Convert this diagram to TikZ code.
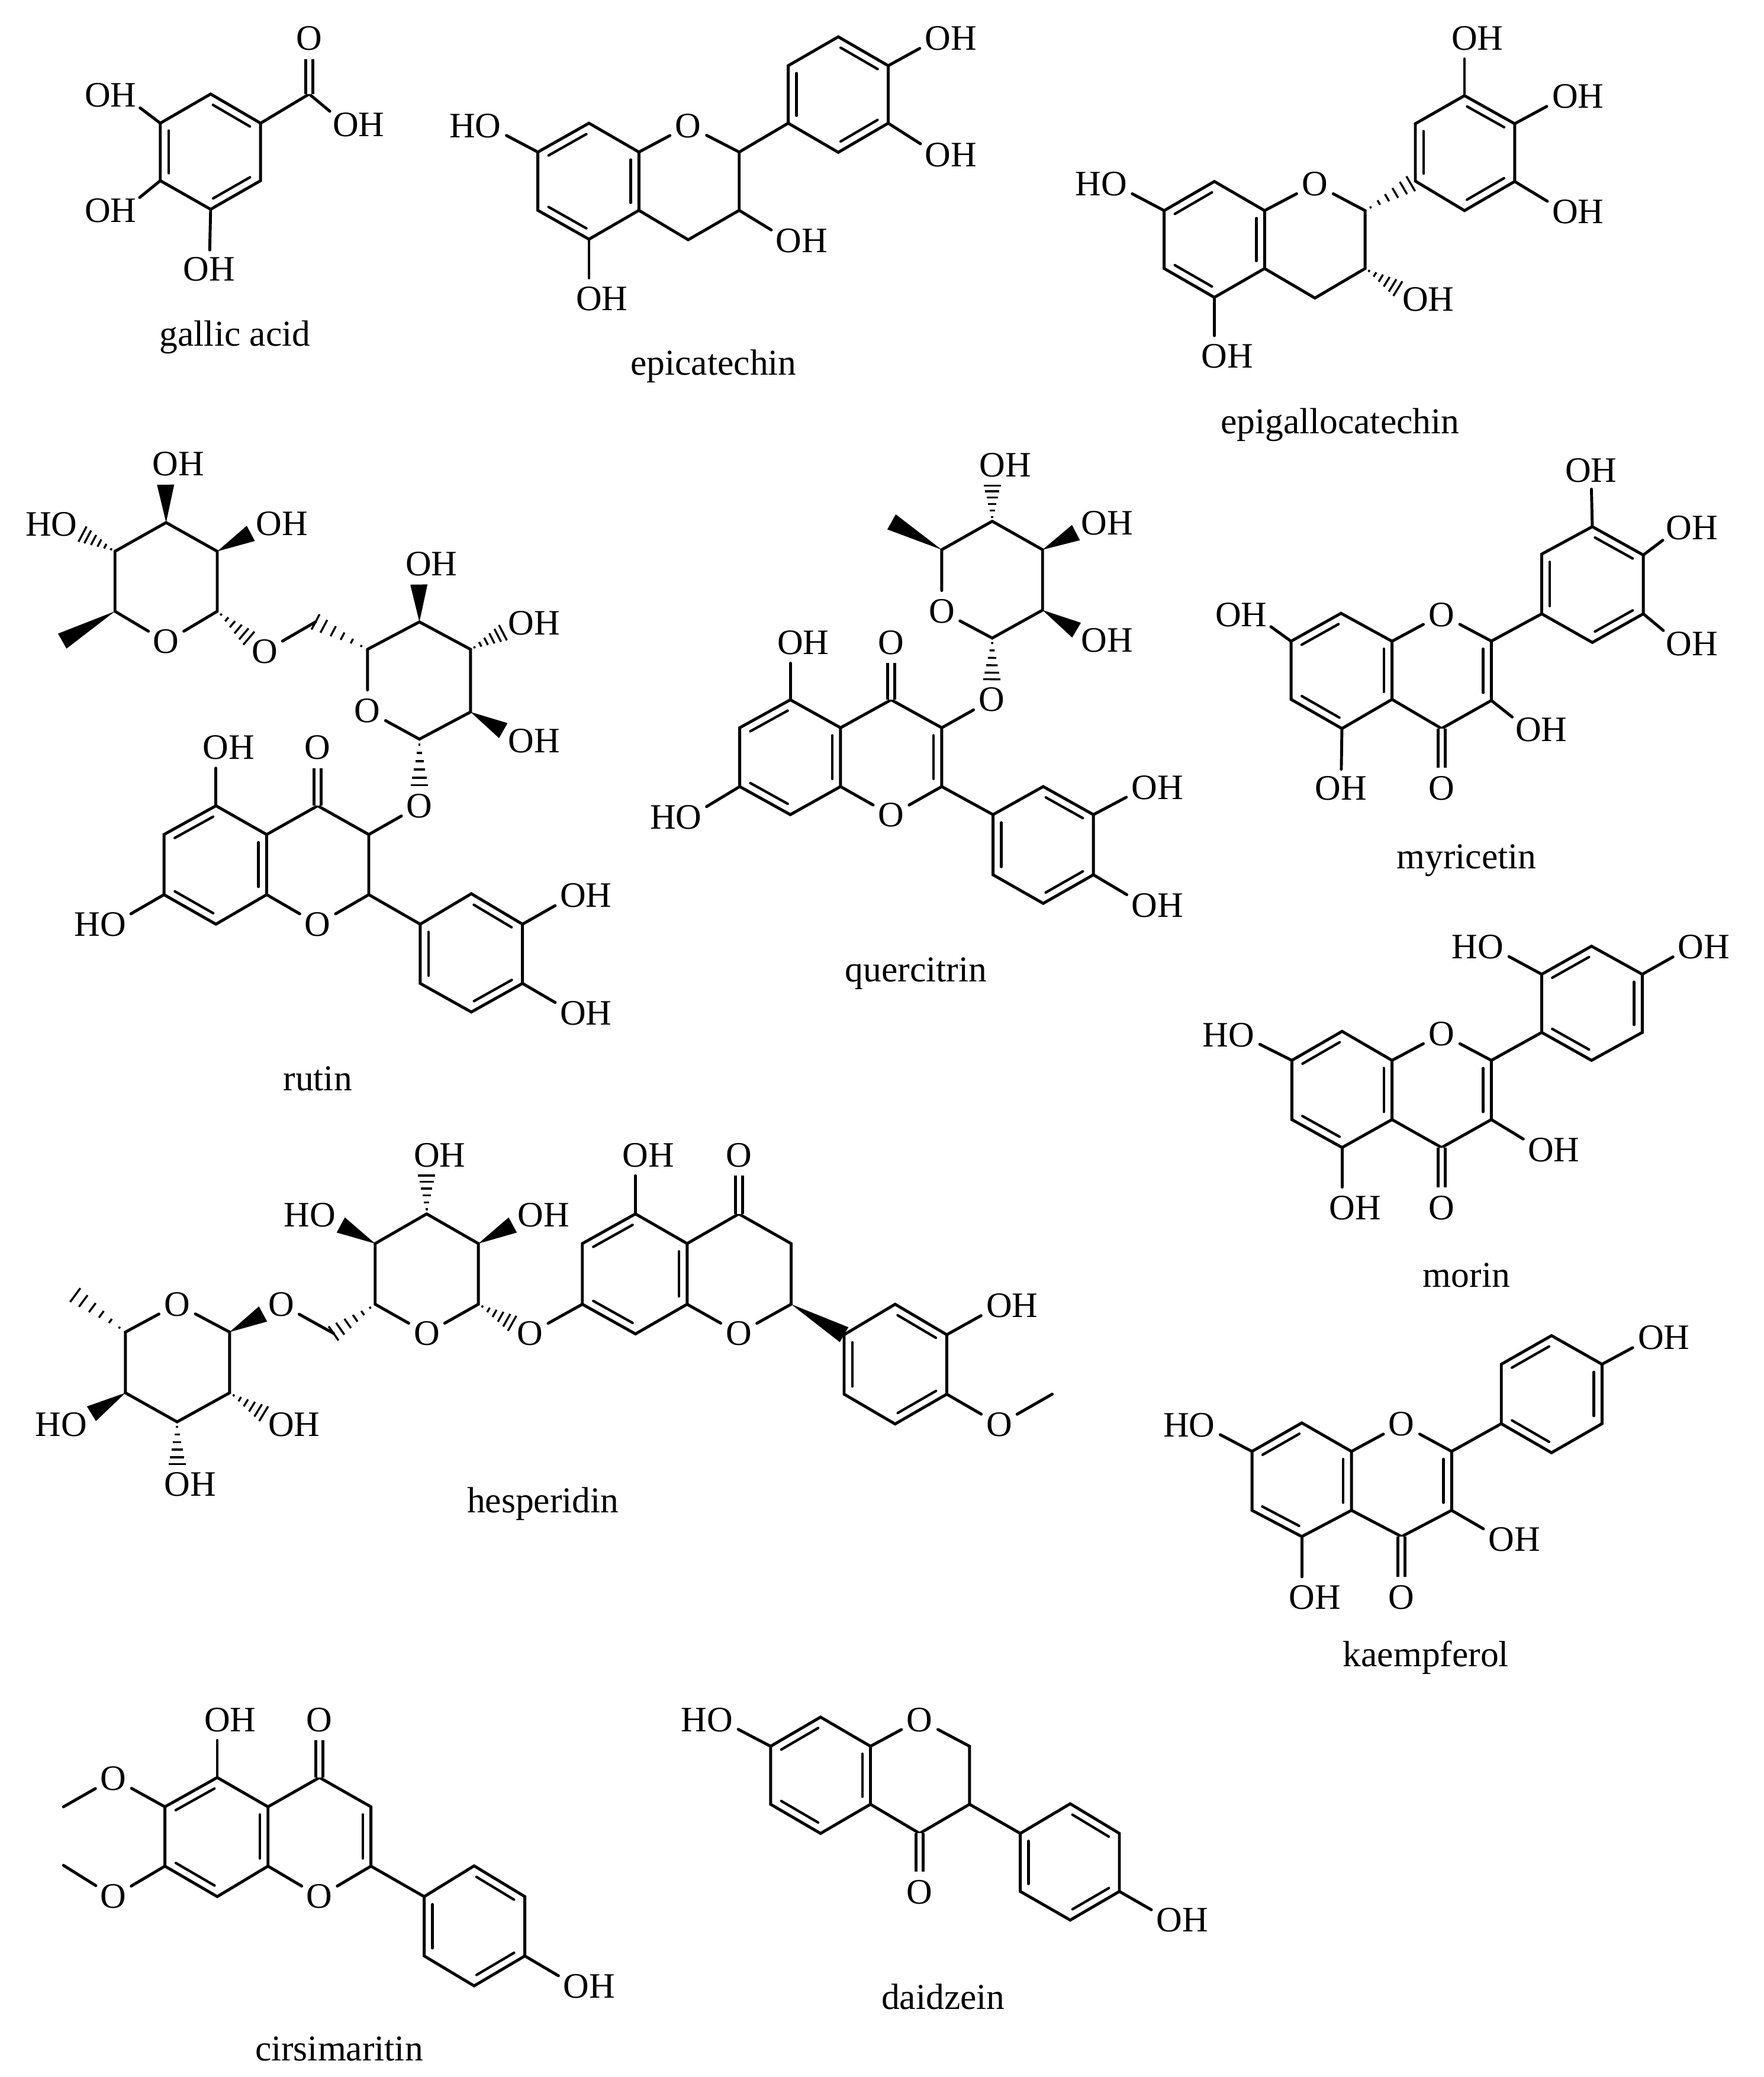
\documentclass[tikz,border=0pt]{standalone}
\usepackage{fontspec}
\setmainfont{Liberation Serif}
\usetikzlibrary{calc}
\tikzset{
  bond/.style={line width=2.2pt,line cap=round},
  cobond/.style={line width=2.2pt,double,double distance=3.2pt},
  atom/.style={circle,inner sep=1.5pt,font=\fontsize{27}{30}\selectfont},
  atomw/.style={rectangle,inner xsep=2pt,inner ysep=5pt,font=\fontsize{27}{30}\selectfont},
  compound/.style={anchor=base,inner sep=0pt,font=\fontsize{27.5}{30}\selectfont}
}
% inner line of a double bond, on the right of the way from #1 to #2
\newcommand{\dbl}[2]{
  \draw[bond,line width=1.9pt]($(#1)!.13!(#2)!6.2pt!-90:(#2)$)--($(#2)!.13!(#1)!6.2pt!90:(#1)$);
}
\newcommand{\wedgebond}[3][15.5pt]{
  \coordinate(wt) at ($(#3)!#1!(#2)$);
  \fill(#2)--($(wt)!6.5pt!90:(#2)$)--($(wt)!6.5pt!-90:(#2)$)--cycle;
}
\newcommand{\hashbond}[3][15.5pt]{
  \coordinate(wt) at ($(#3)!#1!(#2)$);
  \foreach \f in {.12,.3,.48,.66,.84,1}{
    \pgfmathsetmacro{\hw}{\f*6.5}
    \draw[line width=1.5pt]($(#2)!\f!(wt)!\hw pt!90:(#2)$)--($(#2)!\f!(wt)!\hw pt!-90:(#2)$);
  }
}
\begin{document}
\begin{tikzpicture}[x=1pt,y=-1pt]
  \useasboundingbox (0,0) rectangle (1331.2,1568);

  % gallic acid
  \foreach \n/\x/\y in {0/159/71,1/196.7/93,2/196.7/136.4,3/159/158,4/121/136.4,5/121/93,6/233.4/71}{
    \coordinate(G\n) at (\x,\y);
  }
  \node[atom](GO1) at (93.3,72) {\llap{O}H};
  \node[atom](GO2) at (93.3,159) {\llap{O}H};
  \node[atomw](GO3) at (158,203) {OH};
  \node[atom](GO4) at (233.4,29) {O};
  \node[atom](GO5) at (261,94) {O\rlap{H}};
  \node[compound](Gname) at (177.4,261.2) {gallic acid};
  \draw[bond](G0)--(G1)--(G2)--(G3)--(G4)--(G5)--cycle;
  \draw[bond](G1)--(G6)--(GO5);
  \draw[bond](G5)--(GO1);
  \draw[bond](G4)--(GO2);
  \draw[bond](G3)--(GO3);
  \draw[cobond](G6)--(GO4);
  \foreach \a/\b in {G0/G1,G2/G3,G4/G5}{\dbl{\a}{\b}}

  % epicatechin
  \foreach \n/\x/\y in {1/444.6/93,2/482.3/114.8,3/482.3/158.8,4/444.6/180.6,5/406/158.8,6/406/114.8,
    7/558/114.8,8/558/158.8,9/519.5/181,
    p1/595/93,p2/595/49.6,p3/632.8/27.8,p4/670.5/49.6,p5/670.5/93,p6/632.8/115}{
    \coordinate(E\n) at (\x,\y);
  }
  \node[atom](EO) at (519.5,95) {O};
  \node[atom](EO1) at (368.5,95) {\llap{H}O};
  \node[atom](EO2) at (444.6,225.5) {O\rlap{H}};
  \node[atom](EO3) at (595.5,181.7) {O\rlap{H}};
  \node[atom](EO4) at (708,29) {O\rlap{H}};
  \node[atom](EO5) at (708,117) {O\rlap{H}};
  \node[compound](Ename) at (538.7,283) {epicatechin};
  \draw[bond](E1)--(E2)--(E3)--(E4)--(E5)--(E6)--cycle;
  \draw[bond](E2)--(EO)--(E7)--(E8)--(E9)--(E3);
  \draw[bond](Ep1)--(Ep2)--(Ep3)--(Ep4)--(Ep5)--(Ep6)--cycle;
  \draw[bond](E7)--(Ep1);
  \foreach \a/\b in {E6/EO1,E4/EO2,E8/EO3,Ep4/EO4,Ep5/EO5}{\draw[bond](\a)--(\b);}
  \foreach \a/\b in {E6/E1,E2/E3,E4/E5,Ep1/Ep2,Ep3/Ep4,Ep5/Ep6}{\dbl{\a}{\b}}

  % epigallocatechin
  \foreach \n/\x/\y in {1/916.7/137,2/954.6/159,3/954.6/202.7,4/916.7/224.5,5/878.8/202.7,6/878.8/159,
    7/1030.5/159,8/1030.5/202.7,9/992.6/225,
    p1/1068.4/136.7,p2/1068.4/93.4,p3/1105.5/72.2,p4/1143.4/93.4,p5/1143.4/137,p6/1105.5/159}{
    \coordinate(L\n) at (\x,\y);
  }
  \node[atom](LO) at (992.6,139) {O};
  \node[atom](LO1) at (840.9,139) {\llap{H}O};
  \node[atom](LO2) at (916.7,269) {O\rlap{H}};
  \node[atom](LO3) at (1068.4,226) {O\rlap{H}};
  \node[atom](LO4) at (1105.5,28.9) {O\rlap{H}};
  \node[atom](LO5) at (1181.4,72.9) {O\rlap{H}};
  \node[atom](LO6) at (1181.4,160) {O\rlap{H}};
  \node[compound](Lname) at (1011.5,327.1) {epigallocatechin};
  \draw[bond](L1)--(L2)--(L3)--(L4)--(L5)--(L6)--cycle;
  \draw[bond](L2)--(LO)--(L7)--(L8)--(L9)--(L3);
  \draw[bond](Lp1)--(Lp2)--(Lp3)--(Lp4)--(Lp5)--(Lp6)--cycle;
  \foreach \a/\b in {L6/LO1,L4/LO2,Lp3/LO4,Lp4/LO5,Lp5/LO6}{\draw[bond](\a)--(\b);}
  \foreach \a/\b in {L6/L1,L2/L3,L4/L5,Lp1/Lp2,Lp3/Lp4,Lp5/Lp6}{\dbl{\a}{\b}}
  \hashbond[4pt]{L7}{Lp1}
  \hashbond{L8}{LO3}

  % rutin
  \foreach \n/\x/\y in {a1/125.4/394.5,a2/164/416.2,a3/164/461.5,a5/86.8/461.5,a6/86.8/416.2,am/47/484,
    c/238.2/469.5,b1/316.6/469.5,b2/355.2/490.2,b3/355.2/537.5,b4/316.6/558,b5/277.4/490.2,
    1/163/608.3,2/201.3/630,3/201.3/675.4,4/163/697.7,5/123.8/675.4,6/123.8/630,
    7/239.8/608.3,8/278.4/630,9/278.4/675.4,
    p1/317.2/697.7,p2/355.8/674.7,p3/394.4/697.7,p4/394.4/742.4,p5/355.8/764,p6/317.2/742.4}{
    \coordinate(R\n) at (\x,\y);
  }
  \node[atom](RaO) at (125.4,484.5) {O};
  \node[atom](RbO) at (277.4,536.5) {O};
  \node[atom](RO) at (239.8,697.7) {O};
  \node[atom](RO1) at (124.8,350.4) {O\rlap{H}};
  \node[atom](RO2) at (203,395.4) {O\rlap{H}};
  \node[atom](RO3) at (48.6,396) {\llap{H}O};
  \node[atom](RO4) at (199.7,491.8) {O};
  \node[atom](RO5) at (316,425.8) {O\rlap{H}};
  \node[atom](RO6) at (393.4,470.5) {O\rlap{H}};
  \node[atom](RO7) at (393.4,559.2) {O\rlap{H}};
  \node[atom](RO8) at (316.6,608.3) {O};
  \node[atom](RO9) at (163,564.3) {O\rlap{H}};
  \node[atom](RO10) at (239.8,564.3) {O};
  \node[atom](RO11) at (85.3,697.7) {\llap{H}O};
  \node[atom](RO12) at (432.6,676) {O\rlap{H}};
  \node[atom](RO13) at (432.6,764.7) {O\rlap{H}};
  \node[compound](Rname) at (239.8,823.5) {rutin};
  \draw[bond](Ra1)--(Ra2)--(Ra3)--(RaO)--(Ra5)--(Ra6)--(Ra1);
  \draw[bond](RO4)--(Rc);
  \draw[bond](Rb5)--(Rb1)--(Rb2)--(Rb3)--(Rb4)--(RbO)--(Rb5);
  \draw[bond](R1)--(R2)--(R3)--(R4)--(R5)--(R6)--cycle;
  \draw[bond](R2)--(R7)--(R8)--(R9)--(RO)--(R3);
  \draw[bond](Rp1)--(Rp2)--(Rp3)--(Rp4)--(Rp5)--(Rp6)--cycle;
  \draw[bond](R9)--(Rp1);
  \foreach \a/\b in {R8/RO8,R1/RO9,R5/RO11,Rp3/RO12,Rp4/RO13}{\draw[bond](\a)--(\b);}
  \draw[cobond](R7)--(RO10);
  \foreach \a/\b in {R6/R1,R2/R3,R4/R5,Rp2/Rp3,Rp4/Rp5,Rp6/Rp1}{\dbl{\a}{\b}}
  \wedgebond{Ra1}{RO1}
  \wedgebond{Ra2}{RO2}
  \wedgebond[0pt]{Ra5}{Ram}
  \wedgebond{Rb1}{RO5}
  \wedgebond{Rb3}{RO7}
  \hashbond{Ra6}{RO3}
  \hashbond{Ra3}{RO4}
  \hashbond[0pt]{Rb5}{Rc}
  \hashbond{Rb2}{RO6}
  \hashbond{Rb4}{RO8}

  % quercitrin
  \foreach \n/\x/\y in {a1/749/393.5,a2/787/415,a3/787/460.6,a4/749/481.7,a6/710.9/415,am/673/394,
    1/596.6/528.3,2/634.5/549.4,3/634.5/593.8,4/596.6/615,5/558.4/593.8,6/558.4/549.4,
    7/672.7/528.3,8/710.9/549.4,9/710.9/593.8,
    p1/749.6/615,p2/787.5/593.8,p3/825.4/615,p4/825.4/660.4,p5/787.5/682,p6/749.6/660.4}{
    \coordinate(Q\n) at (\x,\y);
  }
  \node[atom](QaO) at (710.9,461.4) {O};
  \node[atom](QO) at (672.7,615.4) {O};
  \node[atom](QO1) at (749,351) {O\rlap{H}};
  \node[atom](QO2) at (826,395) {O\rlap{H}};
  \node[atom](QO3) at (826,483.6) {O\rlap{H}};
  \node[atom](QO4) at (748.5,528.3) {O};
  \node[atom](QO5) at (596.6,485) {O\rlap{H}};
  \node[atom](QO6) at (672.7,485) {O};
  \node[atom](QO7) at (520,617) {\llap{H}O};
  \node[atom](QO8) at (864,594.6) {O\rlap{H}};
  \node[atom](QO9) at (864,683.4) {O\rlap{H}};
  \node[compound](Qname) at (691.5,740.9) {quercitrin};
  \draw[bond](Qa1)--(Qa2)--(Qa3)--(Qa4)--(QaO)--(Qa6)--(Qa1);
  \draw[bond](Q1)--(Q2)--(Q3)--(Q4)--(Q5)--(Q6)--cycle;
  \draw[bond](Q2)--(Q7)--(Q8)--(Q9)--(QO)--(Q3);
  \draw[bond](Qp1)--(Qp2)--(Qp3)--(Qp4)--(Qp5)--(Qp6)--cycle;
  \draw[bond](Q9)--(Qp1);
  \foreach \a/\b in {Q8/QO4,Q1/QO5,Q5/QO7,Qp3/QO8,Qp4/QO9}{\draw[bond](\a)--(\b);}
  \draw[cobond](Q7)--(QO6);
  \foreach \a/\b in {Q6/Q1,Q2/Q3,Q4/Q5,Q8/Q9,Qp2/Qp3,Qp4/Qp5,Qp6/Qp1}{\dbl{\a}{\b}}
  \wedgebond{Qa2}{QO2}
  \wedgebond{Qa3}{QO3}
  \wedgebond[0pt]{Qa6}{Qam}
  \hashbond{Qa1}{QO1}
  \hashbond{Qa4}{QO4}

  % myricetin
  \foreach \n/\x/\y in {1/1012.3/463,2/1050.8/484.1,3/1050.8/528,4/1013/550,5/974.6/528,6/974.6/484.1,
    7/1125.8/484,8/1125.8/528.8,9/1088.2/550,
    p1/1163.8/463.4,p2/1163.8/418.3,p3/1202/397.6,p4/1240.5/419,p5/1240.5/463.4,p6/1202/485}{
    \coordinate(M\n) at (\x,\y);
  }
  \node[atom](MO) at (1088.2,464) {O};
  \node[atom](MO1) at (946.7,464) {\llap{O}H};
  \node[atom](MO2) at (1153.7,551) {O\rlap{H}};
  \node[atomw](MO3) at (1012.3,595) {OH};
  \node[atom](MO4) at (1088.2,595) {O};
  \node[atomw](MO5) at (1201,355) {OH};
  \node[atom](MO6) at (1267.6,398.4) {O\rlap{H}};
  \node[atom](MO7) at (1267.6,486) {O\rlap{H}};
  \node[compound](Mname) at (1107,655.7) {myricetin};
  \draw[bond](M1)--(M2)--(M3)--(M4)--(M5)--(M6)--cycle;
  \draw[bond](M2)--(MO)--(M7)--(M8)--(M9)--(M3);
  \draw[bond](Mp1)--(Mp2)--(Mp3)--(Mp4)--(Mp5)--(Mp6)--cycle;
  \draw[bond](M7)--(Mp1);
  \foreach \a/\b in {M6/MO1,M8/MO2,M4/MO3,Mp3/MO5,Mp4/MO6,Mp5/MO7}{\draw[bond](\a)--(\b);}
  \draw[cobond](M9)--(MO4);
  \foreach \a/\b in {M6/M1,M2/M3,M4/M5,M7/M8,Mp1/Mp2,Mp3/Mp4,Mp5/Mp6}{\dbl{\a}{\b}}

  % morin
  \foreach \n/\x/\y in {1/1013.1/778.6,2/1050.8/800.5,3/1050.8/845.2,4/1013.1/866.3,5/975.2/845.2,6/975.2/800.5,
    7/1125.8/800.5,8/1125.8/845.2,9/1088.2/866.3,
    p1/1163.8/779.4,p2/1163.8/735.5,p3/1201.4/714.3,p4/1239.7/735.5,p5/1239.7/779.4,p6/1201.4/800.5}{
    \coordinate(N\n) at (\x,\y);
  }
  \node[atom](NO) at (1088.2,780.6) {O};
  \node[atom](NO1) at (937,781.4) {\llap{H}O};
  \node[atom](NO2) at (1163.2,868) {O\rlap{H}};
  \node[atom](NO3) at (1013.1,911.8) {O\rlap{H}};
  \node[atom](NO4) at (1088.2,911.8) {O};
  \node[atom](NO5) at (1125.3,714.7) {\llap{H}O};
  \node[atom](NO6) at (1276.5,714.7) {O\rlap{H}};
  \node[compound](Nname) at (1107,971.5) {morin};
  \draw[bond](N1)--(N2)--(N3)--(N4)--(N5)--(N6)--cycle;
  \draw[bond](N2)--(NO)--(N7)--(N8)--(N9)--(N3);
  \draw[bond](Np1)--(Np2)--(Np3)--(Np4)--(Np5)--(Np6)--cycle;
  \draw[bond](N7)--(Np1);
  \foreach \a/\b in {N6/NO1,N8/NO2,N4/NO3,Np2/NO5,Np4/NO6}{\draw[bond](\a)--(\b);}
  \draw[cobond](N9)--(NO4);
  \foreach \a/\b in {N6/N1,N2/N3,N4/N5,N7/N8,Np2/Np3,Np4/Np5,Np6/Np1}{\dbl{\a}{\b}}

  % hesperidin
  \foreach \n/\x/\y in {a1/173.3/1005.6,a2/173.3/1051.5,a3/133.7/1073.4,a4/94.7/1051.5,a5/94.7/1005.6,am/56.8/977.7,
    c/251.8/1006.6,b1/322.1/916.4,b2/361.1/938.8,b3/361.1/984.6,b5/283.2/984.6,b6/283.2/938.8,
    1/479.7/916.4,2/518.7/938.8,3/518.7/984.6,4/479.7/1007,5/439.6/984.6,6/439.6/938.8,
    7/557.7/916.4,8/597.2/938.8,9/597.2/984.6,n/794.3/1052.5,
    p1/637.2/1007.6,p2/675.7/984.6,p3/714.7/1007.6,p4/714.7/1052.5,p5/675.7/1075,p6/637.2/1052.5}{
    \coordinate(H\n) at (\x,\y);
  }
  \node[atom](HaO) at (133.7,984.6) {O};
  \node[atom](HbO) at (322.1,1006.6) {O};
  \node[atom](HO) at (557.7,1006.6) {O};
  \node[atom](HO1) at (212.2,984.6) {O};
  \node[atom](HO2) at (55.8,1075.4) {\llap{H}O};
  \node[atom](HO3) at (212.2,1075.4) {O\rlap{H}};
  \node[atom](HO4) at (133.7,1120.7) {O\rlap{H}};
  \node[atom](HO5) at (322.1,872) {O\rlap{H}};
  \node[atom](HO6) at (243.6,917.4) {\llap{H}O};
  \node[atom](HO7) at (400.7,917.4) {O\rlap{H}};
  \node[atom](HO8) at (400.1,1006.6) {O};
  \node[atom](HO9) at (479.7,872) {O\rlap{H}};
  \node[atom](HO10) at (557.7,872) {O};
  \node[atom](HO11) at (754.2,985.6) {O\rlap{H}};
  \node[atom](HO12) at (754.2,1075.4) {O};
  \node[compound](Hname) at (409.9,1141.7) {hesperidin};
  \draw[bond](HaO)--(Ha1)--(Ha2)--(Ha3)--(Ha4)--(Ha5)--(HaO);
  \draw[bond](HO1)--(Hc);
  \draw[bond](Hb1)--(Hb2)--(Hb3)--(HbO)--(Hb5)--(Hb6)--(Hb1);
  \draw[bond](H1)--(H2)--(H3)--(H4)--(H5)--(H6)--cycle;
  \draw[bond](H2)--(H7)--(H8)--(H9)--(HO)--(H3);
  \draw[bond](Hp1)--(Hp2)--(Hp3)--(Hp4)--(Hp5)--(Hp6)--cycle;
  \foreach \a/\b in {HO8/H5,H1/HO9,Hp3/HO11,Hp4/HO12,HO12/Hn}{\draw[bond](\a)--(\b);}
  \draw[cobond](H7)--(HO10);
  \foreach \a/\b in {H6/H1,H2/H3,H4/H5,Hp2/Hp3,Hp4/Hp5,Hp6/Hp1}{\dbl{\a}{\b}}
  \wedgebond{Ha1}{HO1}
  \wedgebond{Ha4}{HO2}
  \wedgebond{Hb6}{HO6}
  \wedgebond{Hb2}{HO7}
  \wedgebond[0pt]{H9}{Hp1}
  \hashbond[0pt]{Ha5}{Ham}
  \hashbond{Ha2}{HO3}
  \hashbond{Ha3}{HO4}
  \hashbond[0pt]{Hb5}{Hc}
  \hashbond{Hb1}{HO5}
  \hashbond{Hb3}{HO8}

  % kaempferol
  \foreach \n/\x/\y in {1/982.7/1074.2,2/1020.2/1095.7,3/1020.2/1140.2,4/982.7/1160,5/945.1/1140.2,6/945.1/1095.7,
    7/1095.8/1095.7,8/1095.8/1140.2,9/1058/1160,
    p1/1133.3/1074.8,p2/1133.3/1029.9,p3/1171.2/1008.3,p4/1209.3/1029.9,p5/1209.3/1074.8,p6/1171.2/1096.7}{
    \coordinate(K\n) at (\x,\y);
  }
  \node[atom](KO) at (1058,1075.2) {O};
  \node[atom](KO1) at (907.3,1075.8) {\llap{H}O};
  \node[atom](KO2) at (1133.3,1162) {O\rlap{H}};
  \node[atom](KO3) at (982.7,1206) {O\rlap{H}};
  \node[atom](KO4) at (1058,1206) {O};
  \node[atom](KO5) at (1246.2,1010) {O\rlap{H}};
  \node[compound](Kname) at (1076.4,1258.3) {kaempferol};
  \draw[bond](K1)--(K2)--(K3)--(K4)--(K5)--(K6)--cycle;
  \draw[bond](K2)--(KO)--(K7)--(K8)--(K9)--(K3);
  \draw[bond](Kp1)--(Kp2)--(Kp3)--(Kp4)--(Kp5)--(Kp6)--cycle;
  \draw[bond](K7)--(Kp1);
  \foreach \a/\b in {K6/KO1,K8/KO2,K4/KO3,Kp4/KO5}{\draw[bond](\a)--(\b);}
  \draw[cobond](K9)--(KO4);
  \foreach \a/\b in {K6/K1,K2/K3,K4/K5,K7/K8,Kp2/Kp3,Kp4/Kp5,Kp6/Kp1}{\dbl{\a}{\b}}

  % cirsimaritin
  \foreach \n/\x/\y in {1/164/1341.9,2/202.3/1364,3/202.3/1408.8,4/164/1431.8,5/124.5/1408.8,6/124.5/1364,
    7/241.2/1341.9,8/280/1364,9/280/1408.8,a/47.9/1364,b/47.9/1408.2,
    p1/320.2/1431.8,p2/357.9/1408.6,p3/396.2/1431.8,p4/396.2/1476.6,p5/357.9/1499.2,p6/320.2/1476.6}{
    \coordinate(C\n) at (\x,\y);
  }
  \node[atom](CO) at (241.2,1431.8) {O};
  \node[atom](CO1) at (164,1298.3) {O\rlap{H}};
  \node[atom](CO2) at (241.2,1298.3) {O};
  \node[atom](CO3) at (85.6,1342.5) {O};
  \node[atom](CO4) at (85.6,1431.8) {O};
  \node[atom](CO5) at (435,1499.5) {O\rlap{H}};
  \node[compound](Cname) at (256,1555.5) {cirsimaritin};
  \draw[bond](C1)--(C2)--(C3)--(C4)--(C5)--(C6)--cycle;
  \draw[bond](C2)--(C7)--(C8)--(C9)--(CO)--(C3);
  \draw[bond](Cp1)--(Cp2)--(Cp3)--(Cp4)--(Cp5)--(Cp6)--cycle;
  \draw[bond](C9)--(Cp1);
  \foreach \a/\b in {C1/CO1,C6/CO3,CO3/Ca,C5/CO4,CO4/Cb,Cp4/CO5}{\draw[bond](\a)--(\b);}
  \draw[cobond](C7)--(CO2);
  \foreach \a/\b in {C6/C1,C2/C3,C4/C5,C8/C9,Cp2/Cp3,Cp4/Cp5,Cp6/Cp1}{\dbl{\a}{\b}}

  % daidzein
  \foreach \n/\x/\y in {1/619.4/1296.3,2/657.1/1318.3,3/657.1/1362.1,4/619.4/1384.1,5/581.7/1362.1,6/581.7/1318.3,
    7/731.9/1318.3,8/731.9/1362.1,9/694.2/1384.1,
    p1/770.2/1384.1,p2/807.9/1361.7,p3/845/1384.1,p4/845/1427.9,p5/807.9/1449.5,p6/770.2/1427.9}{
    \coordinate(D\n) at (\x,\y);
  }
  \node[atom](DO) at (694.2,1298.3) {O};
  \node[atom](DO1) at (543.4,1298.3) {\llap{H}O};
  \node[atom](DO2) at (694.2,1428.5) {O};
  \node[atom](DO3) at (882.7,1449.5) {O\rlap{H}};
  \node[compound](Dname) at (712,1517) {daidzein};
  \draw[bond](D1)--(D2)--(D3)--(D4)--(D5)--(D6)--cycle;
  \draw[bond](D2)--(DO)--(D7)--(D8)--(D9)--(D3);
  \draw[bond](Dp1)--(Dp2)--(Dp3)--(Dp4)--(Dp5)--(Dp6)--cycle;
  \draw[bond](D8)--(Dp1);
  \foreach \a/\b in {D6/DO1,Dp4/DO3}{\draw[bond](\a)--(\b);}
  \draw[cobond](D9)--(DO2);
  \foreach \a/\b in {D6/D1,D2/D3,D4/D5,Dp2/Dp3,Dp4/Dp5,Dp6/Dp1}{\dbl{\a}{\b}}
\end{tikzpicture}
\end{document}
